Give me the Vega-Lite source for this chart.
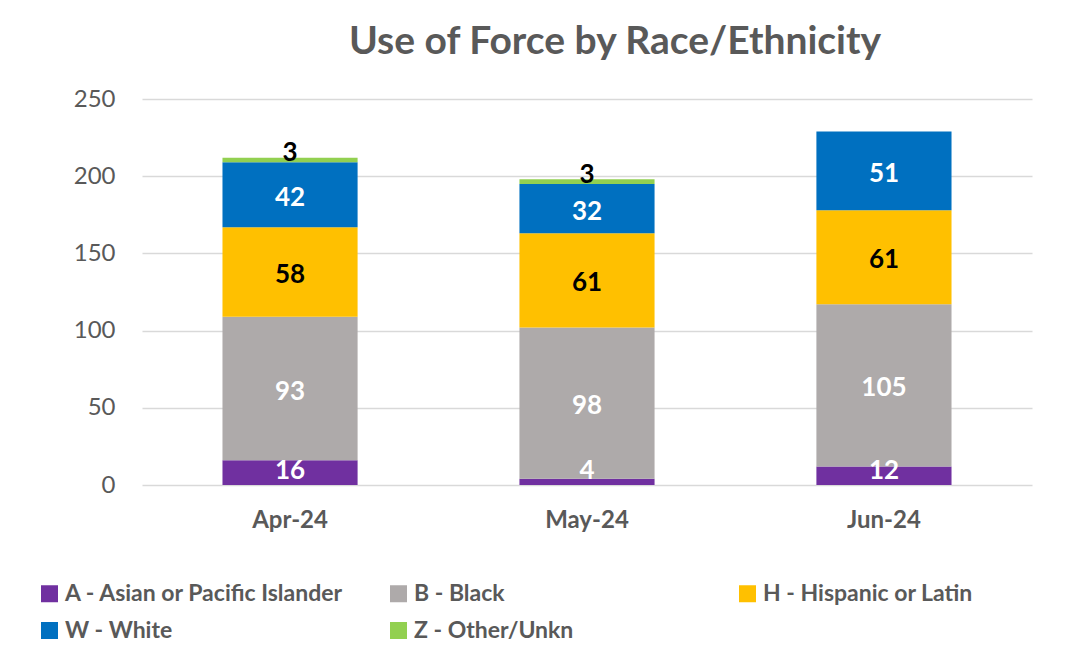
{
  "$schema": "https://vega.github.io/schema/vega-lite/v6.json",
  "width": 890,
  "height": 386,
  "autosize": "none",
  "padding": {"left": 142, "top": 99, "right": 60, "bottom": 182},
  "background": "white",
  "title": {
    "text": "Use of Force by Race/Ethnicity",
    "font": "Lato",
    "fontSize": 39,
    "fontWeight": "bold",
    "color": "#595959",
    "anchor": "middle",
    "dx": 28,
    "offset": 25
  },
  "data": {
    "values": [
      {"month": "Apr-24", "race": "A - Asian or Pacific Islander", "order": 1, "count": 16},
      {"month": "Apr-24", "race": "B - Black", "order": 2, "count": 93},
      {"month": "Apr-24", "race": "H - Hispanic or Latin", "order": 3, "count": 58},
      {"month": "Apr-24", "race": "W - White", "order": 4, "count": 42},
      {"month": "Apr-24", "race": "Z - Other/Unkn", "order": 5, "count": 3},
      {"month": "May-24", "race": "A - Asian or Pacific Islander", "order": 1, "count": 4},
      {"month": "May-24", "race": "B - Black", "order": 2, "count": 98},
      {"month": "May-24", "race": "H - Hispanic or Latin", "order": 3, "count": 61},
      {"month": "May-24", "race": "W - White", "order": 4, "count": 32},
      {"month": "May-24", "race": "Z - Other/Unkn", "order": 5, "count": 3},
      {"month": "Jun-24", "race": "A - Asian or Pacific Islander", "order": 1, "count": 12},
      {"month": "Jun-24", "race": "B - Black", "order": 2, "count": 105},
      {"month": "Jun-24", "race": "H - Hispanic or Latin", "order": 3, "count": 61},
      {"month": "Jun-24", "race": "W - White", "order": 4, "count": 51}
    ]
  },
  "transform": [
    {"stack": "count", "groupby": ["month"], "sort": [{"field": "order"}], "as": ["y0", "y1"]},
    {"calculate": "(datum.y0 + datum.y1) / 2", "as": "mid"}
  ],
  "encoding": {
    "x": {
      "field": "month",
      "type": "nominal",
      "sort": ["Apr-24", "May-24", "Jun-24"],
      "scale": {"paddingInner": 0.545, "paddingOuter": 0.271},
      "axis": {
        "title": null,
        "labelAngle": 0,
        "labelFont": "Lato",
        "labelFontSize": 24,
        "labelFontWeight": "bold",
        "labelColor": "#595959",
        "labelPadding": 23,
        "domain": false,
        "ticks": false
      }
    }
  },
  "layer": [
    {
      "mark": {"type": "bar"},
      "encoding": {
        "y": {
          "field": "y0",
          "type": "quantitative",
          "scale": {"domain": [0, 250], "nice": false},
          "axis": {
            "title": null,
            "values": [0, 50, 100, 150, 200, 250],
            "labelFont": "Lato",
            "labelFontSize": 24,
            "labelColor": "#595959",
            "labelPadding": 27,
            "domain": false,
            "ticks": false,
            "gridColor": "#D9D9D9",
            "gridWidth": 1.5
          }
        },
        "y2": {"field": "y1"},
        "color": {
          "field": "race",
          "type": "nominal",
          "scale": {
            "domain": ["A - Asian or Pacific Islander", "B - Black", "H - Hispanic or Latin", "W - White", "Z - Other/Unkn"],
            "range": ["#7030A0", "#AEAAAA", "#FFC000", "#0070C0", "#92D050"]
          },
          "legend": {
            "title": null,
            "orient": "none",
            "legendX": -104,
            "legendY": 483,
            "direction": "horizontal",
            "columns": 3,
            "gridAlign": "all",
            "symbolType": "square",
            "symbolSize": 289,
            "symbolStrokeWidth": 0,
            "symbolOffset": 0,
            "labelOffset": 4,
            "labelFont": "Lato",
            "labelFontSize": 23,
            "labelFontWeight": "bold",
            "labelColor": "#595959",
            "labelLimit": 400,
            "columnPadding": 42,
            "rowPadding": 13
          }
        }
      }
    },
    {
      "transform": [{"filter": "datum.order == 2 || datum.order == 3 || datum.order == 4"}],
      "mark": {"type": "text", "font": "Lato", "fontSize": 26, "fontWeight": "bold", "baseline": "middle", "align": "center", "dy": 3},
      "encoding": {
        "y": {"field": "mid", "type": "quantitative", "scale": {"domain": [0, 250], "nice": false}},
        "text": {"field": "count", "type": "quantitative"},
        "color": {
          "condition": {"test": "datum.order == 3", "value": "black"},
          "value": "white"
        }
      }
    },
    {
      "transform": [{"filter": "datum.order == 1"}],
      "mark": {"type": "text", "font": "Lato", "fontSize": 26, "fontWeight": "bold", "baseline": "alphabetic", "align": "center", "dy": -6, "color": "white"},
      "encoding": {
        "y": {"field": "y0", "type": "quantitative", "scale": {"domain": [0, 250], "nice": false}},
        "text": {"field": "count", "type": "quantitative"}
      }
    },
    {
      "transform": [{"filter": "datum.order == 5"}],
      "mark": {"type": "text", "font": "Lato", "fontSize": 26, "fontWeight": "bold", "baseline": "middle", "align": "center", "dy": -7, "color": "black"},
      "encoding": {
        "y": {"field": "mid", "type": "quantitative", "scale": {"domain": [0, 250], "nice": false}},
        "text": {"field": "count", "type": "quantitative"}
      }
    }
  ],
  "config": {
    "view": {"stroke": null}
  }
}
